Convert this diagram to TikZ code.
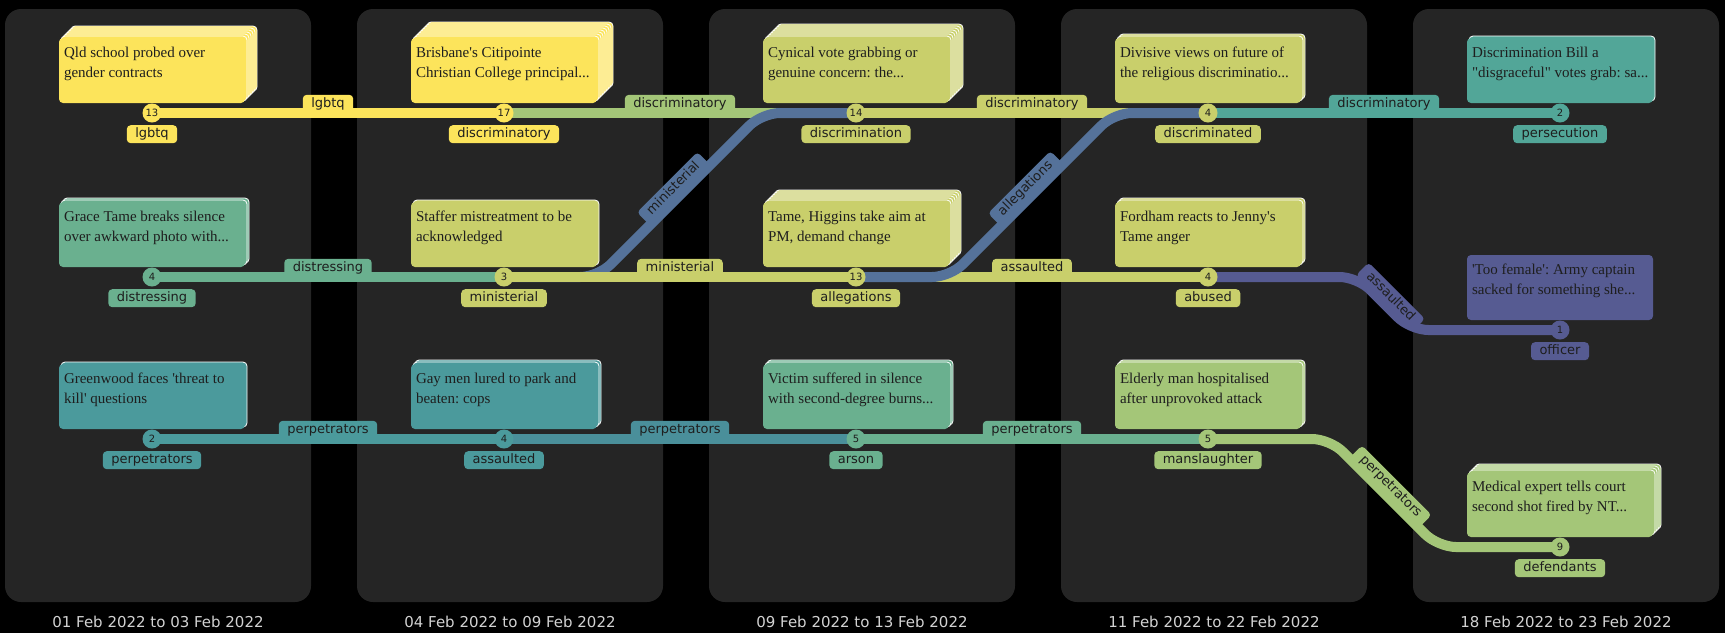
\documentclass[tikz,border=0pt]{standalone}
\usepackage{fontspec}
\setmainfont{Liberation Serif}[Ligatures=TeXOff]
\newfontfamily\labelfont{DejaVu Sans}
\usetikzlibrary{calc}
\frenchspacing
\definecolor{cyellow}{HTML}{FCE45B}
\definecolor{colive}{HTML}{C9CF6B}
\definecolor{cgreen}{HTML}{A4C678}
\definecolor{cmint}{HTML}{6AB08F}
\definecolor{cteal}{HTML}{52A698}
\definecolor{cpetrol}{HTML}{4B9A9C}
\definecolor{cpetrolb}{HTML}{4A8F9A}
\definecolor{cblue}{HTML}{55729A}
\definecolor{cpurple}{HTML}{565B92}
\definecolor{cpanel}{HTML}{252525}
\definecolor{ctext}{HTML}{1E1E1E}
\definecolor{cdate}{HTML}{D2D2D2}
\pgfdeclarelayer{cards}
\pgfdeclarelayer{lines}
\pgfsetlayers{cards,lines,main}
\tikzset{%
  panel/.style={fill=cpanel,rounded corners=16},
  sheet/.style={fill=#1,draw=white,line width=0.8,rounded corners=4},
  card/.style={fill=#1,rounded corners=4,minimum width=186,minimum height=65,inner sep=0},
  cardtext/.style={anchor=north west,inner sep=0,align=left,text=ctext,font=\fontsize{15}{20}\selectfont},
  stn/.style={circle,fill=#1,minimum size=19,inner sep=0,text=ctext,font=\labelfont\fontsize{10}{10}\selectfont},
  pill/.style={fill=#1,rounded corners=4,inner xsep=8.5,inner ysep=3,text height=9.5,text depth=2.5,text=ctext,font=\labelfont\fontsize{13}{13}\selectfont},
  slabel/.style={pill=#1,anchor=north},
  elabel/.style={pill=#1,anchor=south},
  route/.style={draw=#1,line width=10,rounded corners=18},
  datelabel/.style={text=cdate,font=\labelfont\fontsize{15}{15}\selectfont}
}
% station, colour, sheets behind, name, title
\newcommand{\newscard}[5]{%
  \ifnum#3>0
    \foreach \i in {#3,...,1}
      \draw[sheet=#2] ($(#1)+(-93+2*\i,-75-2*\i)$) rectangle ($(#1)+(93+2*\i,-10-2*\i)$);
  \fi
  \node[card=#2] (#4) at ($(#1)+(0,-42.5)$) {};
  \node[cardtext] (#4t) at ($(#4.north west)+(5,5)$) {\strut #5};
}

\begin{document}
\begin{tikzpicture}[x=1pt,y=-1pt]
  % stations
  \node[stn=cyellow] (s11) at (152,113) {13};
  \node[stn=cmint]   (s12) at (152,277) {4};
  \node[stn=cpetrol] (s13) at (152,439) {2};
  \node[stn=cyellow] (s21) at (504,113) {17};
  \node[stn=colive]  (s22) at (504,277) {3};
  \node[stn=cpetrol] (s23) at (504,439) {4};
  \node[stn=colive]  (s31) at (856,113) {14};
  \node[stn=colive]  (s32) at (856,277) {13};
  \node[stn=cmint]   (s33) at (856,439) {5};
  \node[stn=colive]  (s41) at (1208,113) {4};
  \node[stn=colive]  (s42) at (1208,277) {4};
  \node[stn=cgreen]  (s43) at (1208,439) {5};
  \node[stn=cteal]   (s51) at (1560,113) {2};
  \node[stn=cpurple] (s52) at (1560,330) {1};
  \node[stn=cgreen]  (s53) at (1560,547) {9};

  \node[slabel=cyellow] (l11) at ($(s11)+(0,12)$) {lgbtq};
  \node[slabel=cmint]   (l12) at ($(s12)+(0,12)$) {distressing};
  \node[slabel=cpetrol] (l13) at ($(s13)+(0,12)$) {perpetrators};
  \node[slabel=cyellow] (l21) at ($(s21)+(0,12)$) {discriminatory};
  \node[slabel=colive]  (l22) at ($(s22)+(0,12)$) {ministerial};
  \node[slabel=cpetrol] (l23) at ($(s23)+(0,12)$) {assaulted};
  \node[slabel=colive]  (l31) at ($(s31)+(0,12)$) {discrimination};
  \node[slabel=colive]  (l32) at ($(s32)+(0,12)$) {allegations};
  \node[slabel=cmint]   (l33) at ($(s33)+(0,12)$) {arson};
  \node[slabel=colive]  (l41) at ($(s41)+(0,12)$) {discriminated};
  \node[slabel=colive]  (l42) at ($(s42)+(0,12)$) {abused};
  \node[slabel=cgreen]  (l43) at ($(s43)+(0,12)$) {manslaughter};
  \node[slabel=cteal]   (l51) at ($(s51)+(0,12)$) {persecution};
  \node[slabel=cpurple] (l52) at ($(s52)+(0,12)$) {officer};
  \node[slabel=cgreen]  (l53) at ($(s53)+(0,12)$) {defendants};

  \foreach \x/\d in {158/01 Feb 2022 to 03 Feb 2022,510/04 Feb 2022 to 09 Feb 2022,
      862/09 Feb 2022 to 13 Feb 2022,1214/11 Feb 2022 to 22 Feb 2022,1566/18 Feb 2022 to 23 Feb 2022}
    \node[datelabel] (d\x) at (\x,622) {\d};

  \begin{pgfonlayer}{cards}
    \fill[black] (0,0) rectangle (1725,633);
    \foreach \i in {0,...,4}
      \path[panel] ({5+352*\i},9) rectangle +(306,593);
    \newscard{s11}{cyellow}{6}{k11}{Qld school probed over\\gender contracts}
    \newscard{s12}{cmint}{2}{k12}{Grace Tame breaks silence\\over awkward photo with...}
    \newscard{s13}{cpetrol}{1}{k13}{Greenwood faces 'threat to\\kill' questions}
    \newscard{s21}{cyellow}{8}{k21}{Brisbane's Citipointe\\Christian College principal...}
    \newscard{s22}{colive}{1}{k22}{Staffer mistreatment to be\\acknowledged}
    \newscard{s23}{cpetrol}{2}{k23}{Gay men lured to park and\\beaten: cops}
    \newscard{s31}{colive}{7}{k31}{Cynical vote grabbing or\\genuine concern: the...}
    \newscard{s32}{colive}{6}{k32}{Tame, Higgins take aim at\\PM, demand change}
    \newscard{s33}{cmint}{2}{k33}{Victim suffered in silence\\with second-degree burns...}
    \newscard{s41}{colive}{2}{k41}{Divisive views on future of\\the religious discriminatio...}
    \newscard{s42}{colive}{2}{k42}{Fordham reacts to Jenny's\\Tame anger}
    \newscard{s43}{cgreen}{2}{k43}{Elderly man hospitalised\\after unprovoked attack}
    \newscard{s51}{cteal}{1}{k51}{Discrimination Bill a\\"disgraceful" votes grab: sa...}
    \newscard{s52}{cpurple}{0}{k52}{'Too female': Army captain\\sacked for something she...}
    \newscard{s53}{cgreen}{4}{k53}{Medical expert tells court\\second shot fired by NT...}
  \end{pgfonlayer}

  \begin{pgfonlayer}{lines}
    \draw[route=cyellow] (s11.center) -- (s21.center);
    \node[elabel=cyellow] (e1) at ($(s11)!0.5!(s21)$) {lgbtq};
    \draw[route=cgreen] (s21.center) -- (s31.center);
    \node[elabel=cgreen] (e2) at ($(s21)!0.5!(s31)$) {discriminatory};
    \draw[route=cblue] (s22.center) -- ++(94,0) -- ++(164,-164) -- (s31.center);
    \node[elabel=cblue,rotate=45] (e3) at ($(s22)!0.5!(s31)$) {ministerial};
    \draw[route=cmint] (s12.center) -- (s22.center);
    \node[elabel=cmint] (e4) at ($(s12)!0.5!(s22)$) {distressing};
    \draw[route=colive] (s22.center) -- (s32.center);
    \node[elabel=colive] (e5) at ($(s22)!0.5!(s32)$) {ministerial};
    \draw[route=colive] (s32.center) -- (s42.center);
    \node[elabel=colive] (e6) at ($(s32)!0.5!(s42)$) {assaulted};
    \draw[route=colive] (s31.center) -- (s41.center);
    \node[elabel=colive] (e7) at ($(s31)!0.5!(s41)$) {discriminatory};
    \draw[route=cteal] (s41.center) -- (s51.center);
    \node[elabel=cteal] (e8) at ($(s41)!0.5!(s51)$) {discriminatory};
    \draw[route=cblue] (s32.center) -- ++(94,0) -- ++(164,-164) -- (s41.center);
    \node[elabel=cblue,rotate=45] (e9) at ($(s32)!0.5!(s41)$) {allegations};
    \draw[route=cpurple] (s42.center) -- ++(149.5,0) -- ++(53,53) -- (s52.center);
    \node[elabel=cpurple,rotate=-45] (e10) at ($(s42)!0.5!(s52)$) {assaulted};
    \draw[route=cpetrol] (s13.center) -- (s23.center);
    \node[elabel=cpetrol] (e11) at ($(s13)!0.5!(s23)$) {perpetrators};
    \draw[route=cpetrolb] (s23.center) -- (s33.center);
    \node[elabel=cpetrolb] (e12) at ($(s23)!0.5!(s33)$) {perpetrators};
    \draw[route=cmint] (s33.center) -- (s43.center);
    \node[elabel=cmint] (e13) at ($(s33)!0.5!(s43)$) {perpetrators};
    \draw[route=cgreen] (s43.center) -- ++(122,0) -- ++(108,108) -- (s53.center);
    \node[elabel=cgreen,rotate=-45] (e14) at ($(s43)!0.5!(s53)$) {perpetrators};
  \end{pgfonlayer}
\end{tikzpicture}
\end{document}
